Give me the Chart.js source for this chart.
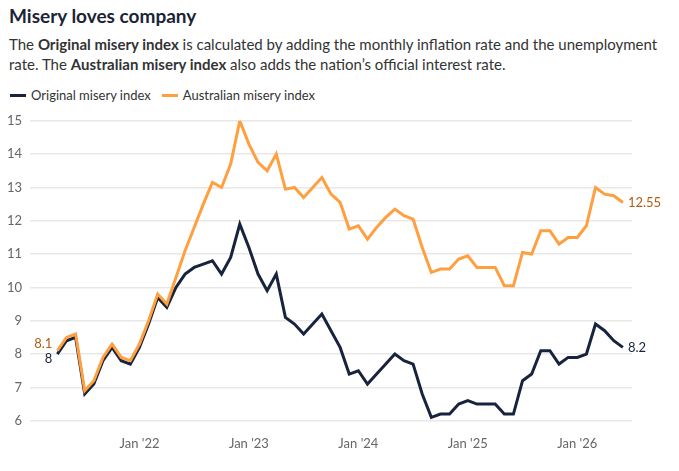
<!DOCTYPE html>
<html>
<head>
<meta charset="utf-8">
<script src="https://cdn.jsdelivr.net/npm/chart.js@4"></script>
<style>
  html, body { margin: 0; padding: 0; background: #fff; }
  body { width: 679px; height: 471px; position: relative; overflow: hidden; font-family: Lato, "Noto Sans", sans-serif; }
  #title { position: absolute; left: 9px; top: 4px; font-size: 19px; font-weight: bold; color: #1b2437; white-space: nowrap; }
  #sub { position: absolute; left: 9px; top: 34px; font-size: 15px; line-height: 20px; color: #333; white-space: nowrap; }
  #legend { position: absolute; left: 10px; top: 87px; font-size: 13px; color: #333; white-space: nowrap; }
  #legend span.item { display: inline-block; margin-right: 11px; }
  #legend span.mark { display: inline-block; width: 16px; height: 3px; vertical-align: middle; margin-right: 5px; position: relative; top: -1px; }
  #wrap { position: absolute; left: 0; top: 105px; width: 679px; height: 350px; }
</style>
</head>
<body>
<div id="title">Misery loves company</div>
<div id="sub">The <b>Original misery index</b> is calculated by adding the monthly inflation rate and the unemployment<br>rate. The <b>Australian misery index</b> also adds the nation’s official interest rate.</div>
<div id="legend"></div>
<div id="wrap"><canvas id="chart"></canvas></div>
<script>
// months Jan 2021 .. Jul 2026, data runs Apr 2021 .. Jun 2026
const monthNames = ['Jan','Feb','Mar','Apr','May','Jun','Jul','Aug','Sep','Oct','Nov','Dec'];
const months = [];
for (let y = 2021; y <= 2026; y++) {
    for (let m = 0; m < 12; m++) {
        if (y === 2026 && m > 6) break;
        months.push(monthNames[m] + " '" + String(y).slice(2));
    }
}

const originalIndex = [null, null, null,
    8.0, 8.4, 8.5, 6.8, 7.1, 7.8, 8.2, 7.8, 7.7,
    8.2, 8.9, 9.7, 9.4, 10.0, 10.4, 10.6, 10.7, 10.8, 10.4, 10.9, 11.9,
    11.2, 10.4, 9.9, 10.4, 9.1, 8.9, 8.6, 8.9, 9.2, 8.7, 8.2, 7.4,
    7.5, 7.1, 7.4, 7.7, 8.0, 7.8, 7.7, 6.8, 6.1, 6.2, 6.2, 6.5,
    6.6, 6.5, 6.5, 6.5, 6.2, 6.2, 7.2, 7.4, 8.1, 8.1, 7.7, 7.9,
    7.9, 8.0, 8.9, 8.7, 8.4, 8.2, null];

const australianIndex = [null, null, null,
    8.1, 8.5, 8.6, 6.9, 7.2, 7.9, 8.3, 7.9, 7.8,
    8.3, 9.0, 9.8, 9.5, 10.3, 11.1, 11.8, 12.5, 13.15, 13.0, 13.7, 15.0,
    14.3, 13.75, 13.5, 14.0, 12.95, 13.0, 12.7, 13.0, 13.3, 12.8, 12.55, 11.75,
    11.85, 11.45, 11.8, 12.1, 12.35, 12.15, 12.05, 11.2, 10.45, 10.55, 10.55, 10.85,
    10.95, 10.6, 10.6, 10.6, 10.05, 10.05, 11.05, 11.0, 11.7, 11.7, 11.3, 11.5,
    11.5, 11.85, 13.0, 12.8, 12.75, 12.55, null];

const yTicks = [6, 7, 8, 9, 10, 11, 12, 13, 14, 15];

const NAVY = '#18233d';
const ORANGE = '#ff9f40';
const ORANGE_TEXT = '#b35c14';

// html legend
const legendItems = [['Original misery index', NAVY], ['Australian misery index', ORANGE]];
document.getElementById('legend').innerHTML = legendItems.map(function (it) {
    return '<span class="item"><span class="mark" style="background:' + it[1] + '"></span>' + it[0] + '</span>';
}).join('');

// first / last value labels
const endLabels = {
    id: 'endLabels',
    afterDatasetsDraw(chart) {
        const ctx = chart.ctx;
        ctx.save();
        ctx.font = '13px Lato, "Noto Sans", sans-serif';
        ctx.textBaseline = 'middle';
        chart.data.datasets.forEach(function (ds, i) {
            const meta = chart.getDatasetMeta(i);
            const vals = ds.data;
            let first = vals.findIndex(v => v !== null);
            let last = vals.length - 1;
            while (vals[last] === null) last--;
            const p0 = meta.data[first], p1 = meta.data[last];
            ctx.fillStyle = ds.labelColor;
            ctx.textAlign = 'right';
            ctx.fillText(String(vals[first]), p0.x - 5, p0.y + ds.labelShift);
            ctx.textAlign = 'left';
            ctx.fillText(String(vals[last]), p1.x + 5, p1.y);
        });
        ctx.restore();
    }
};

const ctx = document.getElementById('chart').getContext('2d');
new Chart(ctx, {
    type: 'line',
    data: {
        labels: months,
        datasets: [{
            label: 'Original misery index',
            data: originalIndex,
            borderColor: NAVY,
            borderWidth: 3,
            pointRadius: 0,
            tension: 0,
            order: 1,
            labelColor: NAVY,
            labelShift: 5
        }, {
            label: 'Australian misery index',
            data: australianIndex,
            borderColor: ORANGE,
            borderWidth: 3,
            pointRadius: 0,
            tension: 0,
            order: 0,
            labelColor: ORANGE_TEXT,
            labelShift: -7
        }]
    },
    options: {
        responsive: true,
        maintainAspectRatio: false,
        animation: false,
        layout: { padding: { top: 15.7, right: 47, left: 0, bottom: 0 } },
        plugins: { legend: { display: false }, tooltip: { enabled: false } },
        scales: {
            x: {
                offset: false,
                grid: { display: false },
                border: { display: false },
                ticks: {
                    autoSkip: false,
                    maxRotation: 0,
                    padding: 7,
                    color: '#666',
                    font: { family: 'Lato', size: 13 },
                    callback: function (v, i) {
                        const l = months[i];
                        return l.startsWith('Jan') && i > 0 ? l : '';
                    }
                },
                afterFit: function (s) { s.height = 34.3; }
            },
            y: {
                min: 6,
                max: 15,
                afterBuildTicks: function (s) { s.ticks = yTicks.map(v => ({ value: v })); },
                grid: { color: '#e8e8e8', lineWidth: 1.5, drawTicks: false },
                border: { display: false },
                ticks: {
                    padding: 8,
                    color: '#666',
                    font: { family: 'Lato', size: 13 }
                },
                afterFit: function (s) { s.width = 30; }
            }
        }
    },
    plugins: [endLabels]
});
</script>
</body>
</html>
